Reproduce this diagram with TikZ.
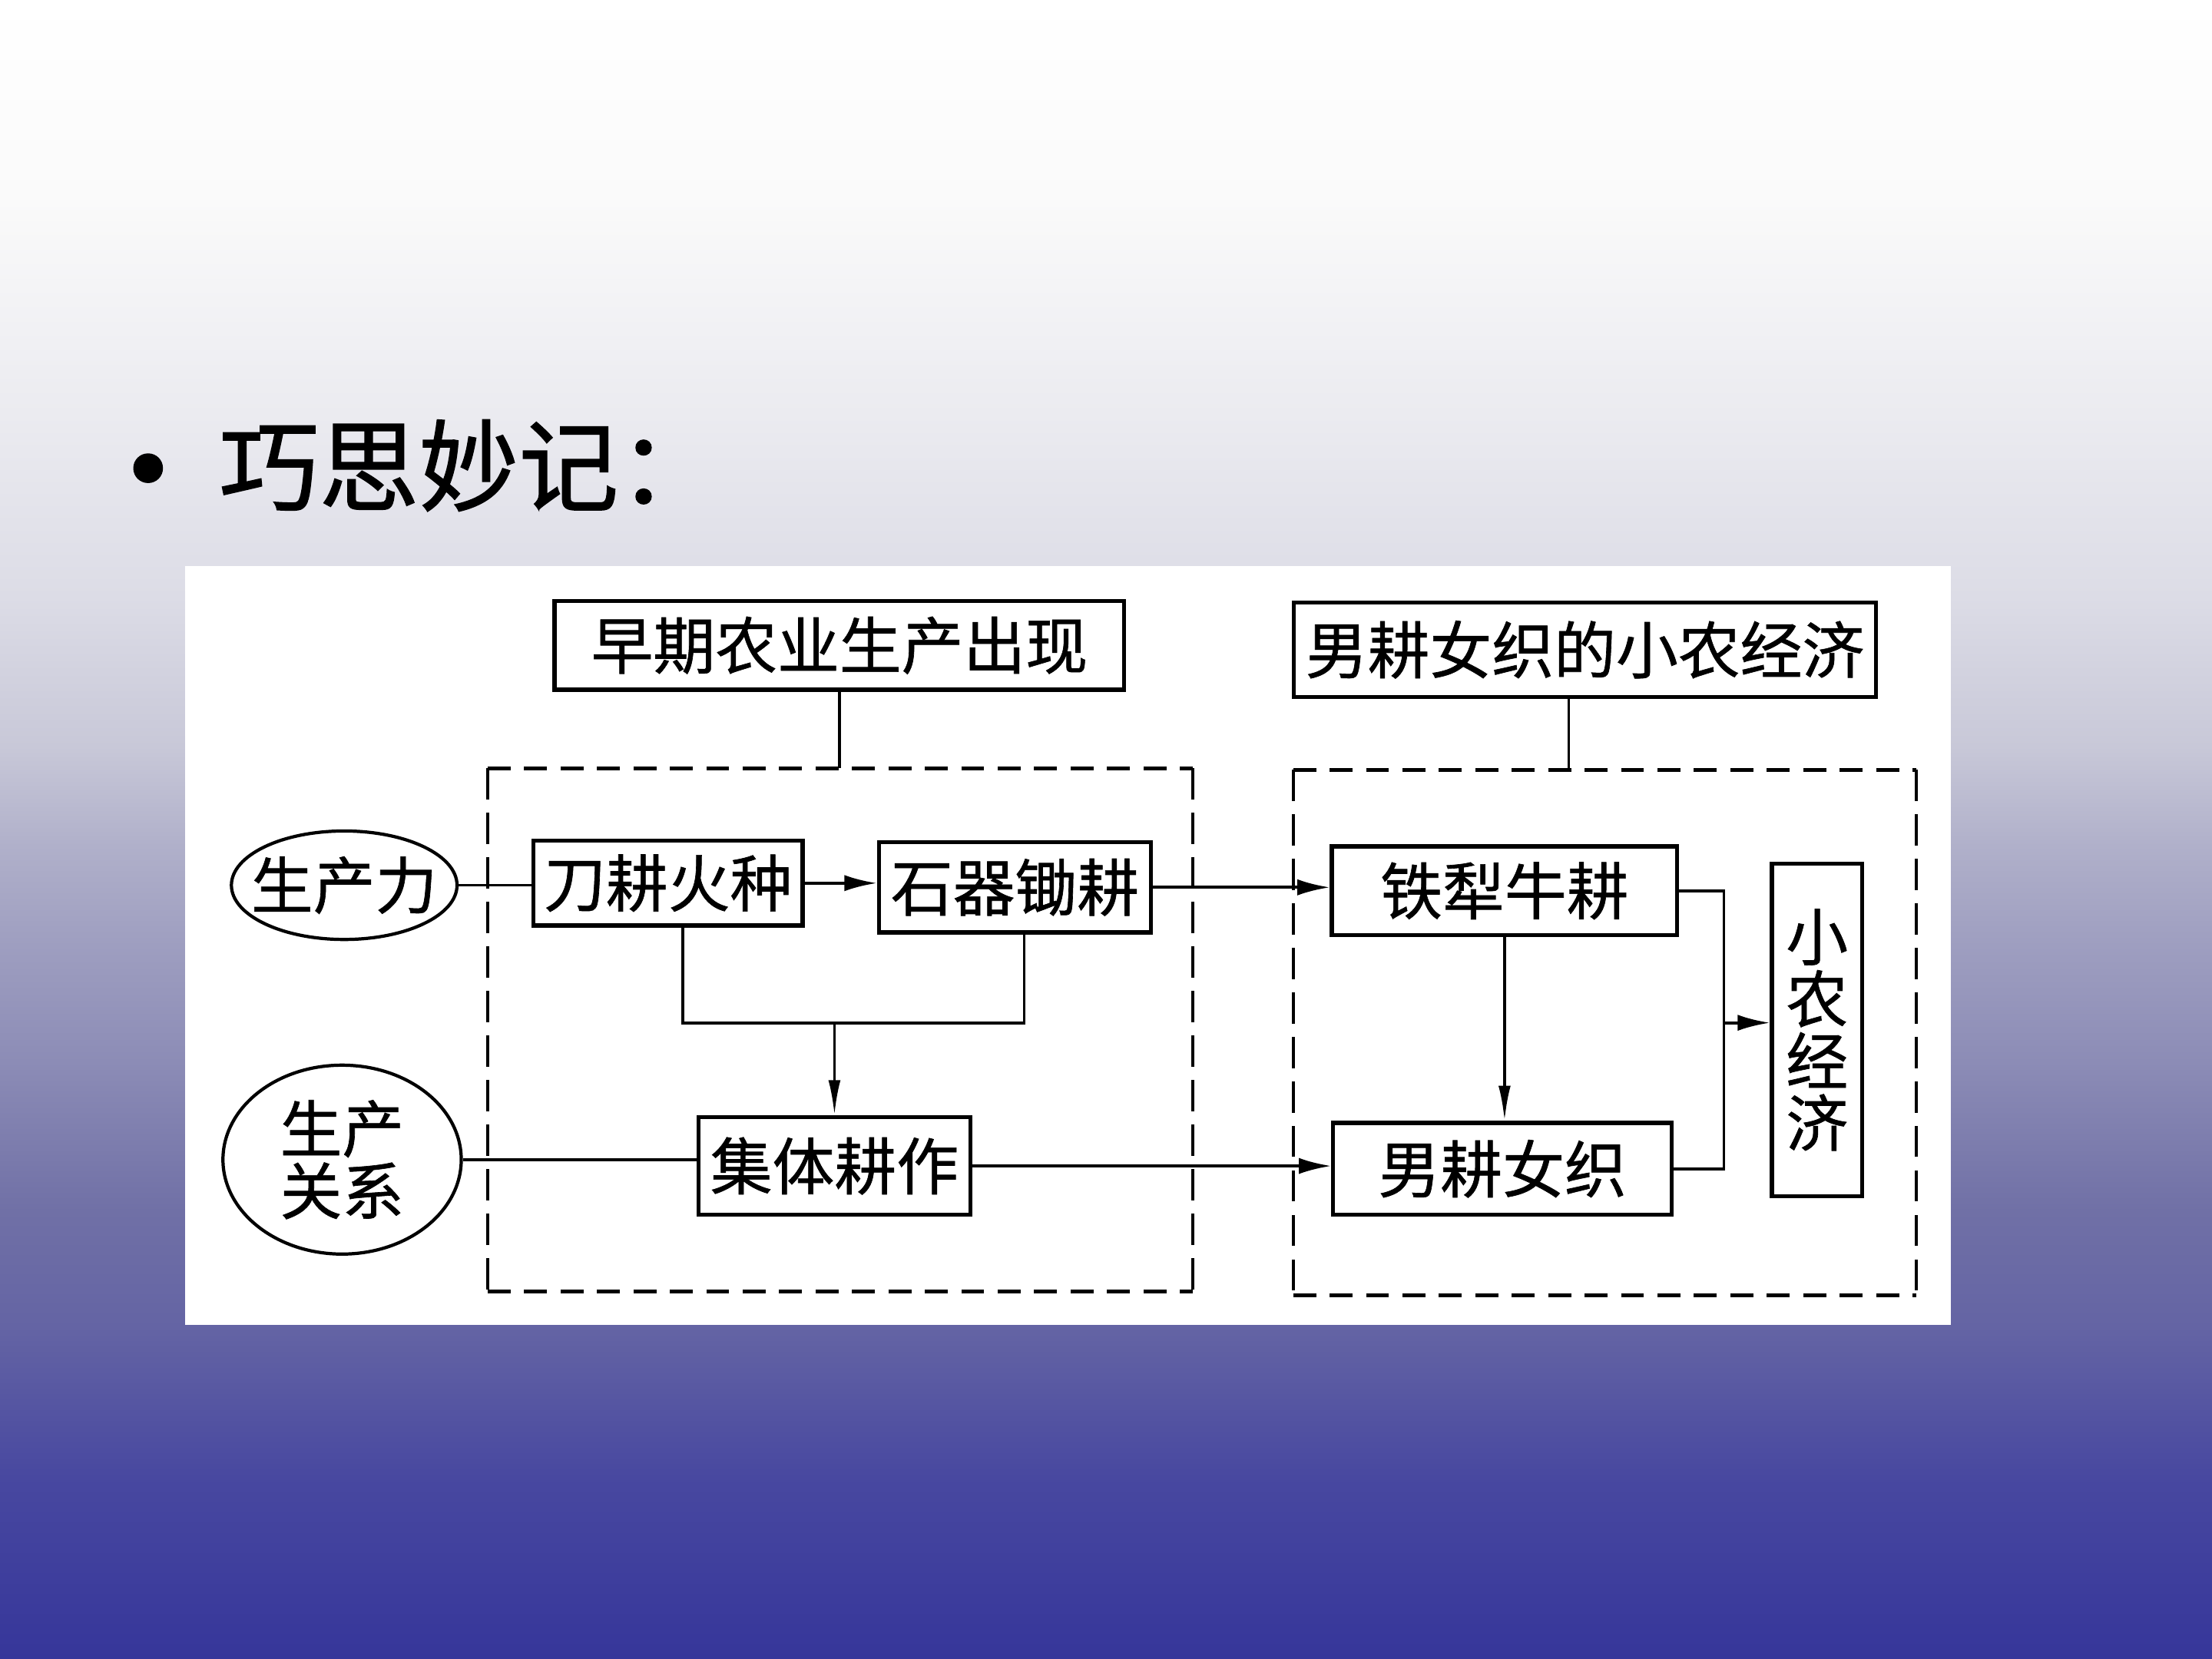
\documentclass[tikz,border=0pt]{standalone}
\usepackage{fontspec}
\newfontfamily\cjk[FakeBold=0.8]{Noto Sans CJK SC}
\newfontfamily\cjktitle[FakeBold=1.2]{Noto Sans CJK SC}
\usepackage{tikz}
\usetikzlibrary{arrows.meta,shapes.geometric}

\definecolor{bgA}{HTML}{FFFFFF}
\definecolor{bgB}{HTML}{FAFAFA}
\definecolor{bgC}{HTML}{EBEBF0}
\definecolor{bgD}{HTML}{DCDCE6}
\definecolor{bgE}{HTML}{C8C8D8}
\definecolor{bgF}{HTML}{B0B0CA}
\definecolor{bgG}{HTML}{9E9EC0}
\definecolor{bgH}{HTML}{8C8CB6}
\definecolor{bgI}{HTML}{7070A6}
\definecolor{bgJ}{HTML}{6464A4}
\definecolor{bgK}{HTML}{4848A0}
\definecolor{bgL}{HTML}{36369A}
\pgfdeclareverticalshading{slidebg}{100bp}{color(0bp)=(bgL); color(25bp)=(bgL);
  color(30.5bp)=(bgK); color(35bp)=(bgJ); color(38.5bp)=(bgI); color(43bp)=(bgH);
  color(46.5bp)=(bgG); color(49.5bp)=(bgF); color(52.5bp)=(bgE); color(57bp)=(bgD);
  color(62.5bp)=(bgC); color(69bp)=(bgB); color(75bp)=(bgA); color(100bp)=(bgA)}

\tikzset{
  box/.style={draw, line width=1.5pt, inner sep=0pt, fill=white, font={\fontsize{23pt}{23pt}\cjk}},
  oval/.style={ellipse, draw, line width=1.2pt, inner sep=0pt, align=center, font={\fontsize{23pt}{23pt}\cjk}},
  group/.style={inner sep=0pt},
  link/.style={line width=1.1pt},
  arr/.style={-{Latex[length=12pt,width=6pt]}, line width=1.1pt},
  varr/.style={-{Latex[length=13pt,width=4.5pt]}, line width=1.1pt},
  hdash/.style={line width=1.4pt, dash pattern=on 8.5pt off 5pt},
  vdash/.style={line width=1.2pt, dash pattern=on 11.5pt off 5pt}
}

\begin{document}
\begin{tikzpicture}[x=0.018367cm, y=-0.018367cm]
\useasboundingbox (0,0) rectangle (1568,1176);
\shade[shading=slidebg] (0,0) rectangle (1568,1176);
\fill[white] (131,401) rectangle (1383,939);

\node[font={\fontsize{50pt}{50pt}\cjk}] (dot) at (105,345) {•};
\node[anchor=west, inner sep=0pt, font={\fontsize{37pt}{37pt}\cjktitle}] (title) at (155,330) {巧思妙记：};

\node[group, minimum width=260.8pt, minimum height=193.4pt] (lgrp) at (595.5,730) {};
\node[group, minimum width=230.5pt, minimum height=194.4pt] (rgrp) at (1137.5,732) {};
\draw[hdash] (lgrp.north west) -- (lgrp.north east) (lgrp.south west) -- (lgrp.south east);
\draw[vdash] (lgrp.north west) -- (lgrp.south west) (lgrp.north east) -- (lgrp.south east);
\draw[hdash] (rgrp.north west) -- (rgrp.north east) (rgrp.south west) -- (rgrp.south east);
\draw[vdash] (rgrp.north west) -- (rgrp.south west) (rgrp.north east) -- (rgrp.south east);

\node[box, minimum width=211.1pt, minimum height=32.9pt] (zqny) at (595,457.5) {早期农业生产出现};
\node[box, minimum width=215.8pt, minimum height=35pt] (xnjjt) at (1123.5,460.5) {男耕女织的小农经济};

\node[oval, inner xsep=-6pt, minimum width=83.6pt, minimum height=40.2pt] (scl) at (244,627.5) {生产力};
\node[oval, minimum width=88.3pt, minimum height=70pt] (scgx) at (242.5,822) {生产\\关系};

\node[box, minimum width=99.8pt, minimum height=31.4pt] (dghz) at (473.5,626) {刀耕火种};
\node[box, minimum width=100.9pt, minimum height=33.4pt] (sqcg) at (719.5,629) {石器锄耕};
\node[box, minimum width=100.9pt, minimum height=36.1pt] (jtgz) at (591.5,826.5) {集体耕作};
\node[box, minimum width=128pt, minimum height=32.9pt] (tlng) at (1066.5,631.5) {铁犁牛耕};
\node[box, minimum width=125.4pt, minimum height=34pt] (mgnz) at (1065,828.5) {男耕女织};
\node[box, minimum width=33.4pt, minimum height=123.3pt, align=center] (xnjj) at (1288,730) {小\\农\\经\\济};

\coordinate (lj) at (484,725);
\coordinate (rj) at (726,725);
\coordinate (ej) at (1222,725);

\draw[link] (zqny.south) -- (zqny.south |- lgrp.north);
\draw[link] ([xshift=-6pt]xnjjt.south) -- ([xshift=-6pt]xnjjt.south |- rgrp.north);
\draw[link] (scl.east) -- (scl.east -| dghz.west);
\draw[arr] (dghz.east) -- (dghz.east -| sqcg.west);
\draw[arr] (sqcg.east) -- (sqcg.east -| tlng.west);
\draw[link] (lj |- dghz.south) -- (lj) -- (rj) -- (rj |- sqcg.south);
\draw[varr] (jtgz.north |- lj) -- (jtgz.north);
\draw[link] (scgx.east) -- (scgx.east -| jtgz.west);
\draw[arr] (jtgz.east) -- (jtgz.east -| mgnz.west);
\draw[varr] (tlng.south) -- (tlng.south |- mgnz.north);
\draw[link] (tlng.east) -| (ej) |- (mgnz.east);
\draw[arr] (ej) -- (ej -| xnjj.west);
\end{tikzpicture}
\end{document}
